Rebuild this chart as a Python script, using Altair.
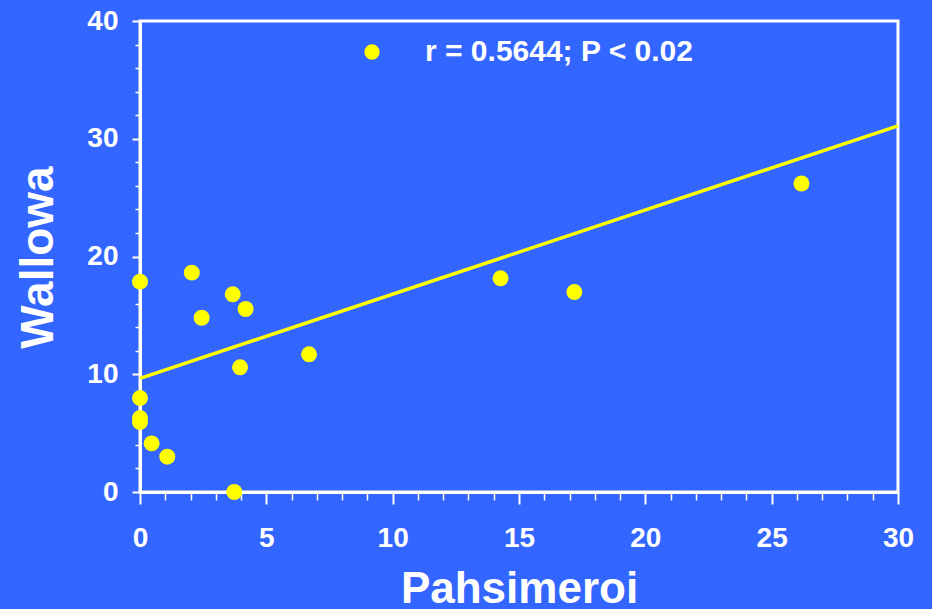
import altair as alt
import pandas as pd

# Data
pahsimeroi = [0.0, 2.05, 2.44, 3.67, 4.18, 3.96, 6.69, 0.0, 0.0, 0.0, 0.46, 1.08, 3.73, 14.27, 17.19, 26.18]
wallowa = [17.86, 18.63, 14.8, 16.79, 15.54, 10.59, 11.69, 7.98, 6.28, 5.94, 4.13, 3.0, 0.0, 18.15, 16.98, 26.2]
fit_x = [0, 30]
fit_y = [9.65, 31.1]
legend_label = "r = 0.5644; P < 0.02"

x_major = [0, 5, 10, 15, 20, 25, 30]
x_minor = [v for v in range(0, 31) if v % 5 != 0]
y_major = [0, 10, 20, 30, 40]
y_minor = [v for v in range(0, 41, 2) if v % 10 != 0]

FONT = "Liberation Sans"
BG = "#3366FF"
YELLOW = "#FFFF00"

pts = pd.DataFrame({"Pahsimeroi": pahsimeroi, "Wallowa": wallowa,
                    "series": [legend_label] * len(pahsimeroi)})
fit = pd.DataFrame({"Pahsimeroi": fit_x, "Wallowa": fit_y})
minor = pd.DataFrame({"Pahsimeroi": [0], "Wallowa": [0]})

xs = alt.Scale(domain=[0, 30], nice=False, zero=False)
ys = alt.Scale(domain=[0, 40], nice=False, zero=False)

x_axis = alt.Axis(values=x_major, orient="bottom", grid=False,
                  domainColor="white", domainWidth=3,
                  tickColor="white", tickSize=12, tickWidth=2,
                  labelFont=FONT, labelFontSize=28, labelFontWeight="bold",
                  labelColor="white", labelPadding=20, labelFlush=False,
                  labelOverlap=False,
                  title="Pahsimeroi", titleFont=FONT, titleFontSize=44,
                  titleFontWeight="bold", titleColor="white",
                  titleX=379, titleY=110, titleBaseline="alphabetic",
                  titleAlign="center")
y_axis = alt.Axis(values=y_major, orient="left", grid=False,
                  domainColor="white", domainWidth=3,
                  tickColor="white", tickSize=8, tickWidth=2,
                  labelFont=FONT, labelFontSize=28, labelFontWeight="bold",
                  labelColor="white", labelPadding=14, labelFlush=False,
                  labelOverlap=False,
                  title="Wallowa", titleFont=FONT, titleFontSize=46,
                  titleFontWeight="bold", titleColor="white",
                  titleAngle=270, titleX=-88, titleY=236,
                  titleBaseline="alphabetic", titleAlign="center")

x_minor_axis = alt.Axis(values=x_minor, orient="bottom", grid=False, domain=False,
                        labels=False, tickColor="white", tickSize=8, tickWidth=1.5,
                        title=None)
y_minor_axis = alt.Axis(values=y_minor, orient="left", grid=False, domain=False,
                        labels=False, tickColor="white", tickSize=5, tickWidth=1.5,
                        title=None)

minor_layer = alt.Chart(minor).mark_point(opacity=0).encode(
    x=alt.X("Pahsimeroi:Q", scale=xs, axis=x_minor_axis),
    y=alt.Y("Wallowa:Q", scale=ys, axis=y_minor_axis),
)

line_layer = alt.Chart(fit).mark_line(color=YELLOW, strokeWidth=3.5, clip=False).encode(
    x=alt.X("Pahsimeroi:Q", scale=xs, axis=None),
    y=alt.Y("Wallowa:Q", scale=ys, axis=None),
)

point_layer = alt.Chart(pts).mark_point(filled=True, shape="circle", size=255,
                                        opacity=1, strokeWidth=0).encode(
    x=alt.X("Pahsimeroi:Q", scale=xs, axis=x_axis),
    y=alt.Y("Wallowa:Q", scale=ys, axis=y_axis),
    color=alt.Color("series:N", scale=alt.Scale(range=[YELLOW]),
                    legend=alt.Legend(title=None, orient="none",
                                      legendX=217, legendY=16, padding=0,
                                      symbolType="circle", symbolSize=235,
                                      symbolStrokeWidth=0, symbolOpacity=1,
                                      labelFont=FONT, labelFontSize=30,
                                      labelFontWeight="bold", labelColor="white",
                                      labelOffset=38, labelLimit=600)),
)

chart = alt.layer(minor_layer, line_layer, point_layer).resolve_axis(
    x="independent", y="independent"
).properties(
    width=758, height=471,
    autosize=alt.AutoSizeParams(type="none"),
    padding={"left": 140, "top": 21, "right": 34, "bottom": 117},
).configure(
    background=BG, font=FONT,
).configure_view(
    stroke="white", strokeWidth=3, fill=BG,
)

chart.save("out.html", embed_options={"renderer": "svg", "actions": False})
